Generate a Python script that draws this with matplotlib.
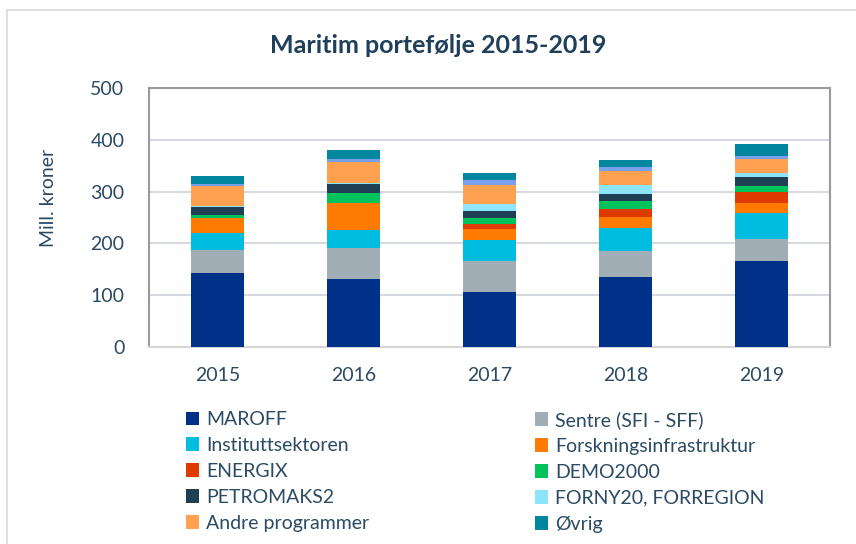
import numpy as np
import matplotlib.pyplot as plt
from matplotlib.patches import Rectangle

plt.rcParams['font.family'] = ['Lato', 'DejaVu Sans']

years = ["2015", "2016", "2017", "2018", "2019"]

# values per programme (mill. kroner), bottom to top of each bar
maroff = [143, 130, 105.5, 134.5, 165.5]
sentre = [43, 60, 60, 50.5, 43]
institutt = [33.5, 36, 40.5, 45, 50]
forskinfra = [29, 51.5, 22, 20.5, 19]
energix = [0, 0, 9.5, 16, 22.5]
demo2000 = [6, 20.5, 11, 15.5, 10.5]
petromaks2 = [15, 16.5, 14, 14, 17]
forny = [3.5, 2.5, 12.5, 16, 8]
andre = [38, 40.5, 37.5, 27, 28]
uspes = [4, 6, 9, 9, 6]          # light blue band, not in legend
ovrig = [15, 17, 14, 14, 22]

series = [
    ("MAROFF", maroff, "#003087"),
    ("Sentre (SFI - SFF)", sentre, "#A2AEB5"),
    ("Instituttsektoren", institutt, "#00BDE0"),
    ("Forskningsinfrastruktur", forskinfra, "#FF7A00"),
    ("ENERGIX", energix, "#DF3A00"),
    ("DEMO2000", demo2000, "#00C35E"),
    ("PETROMAKS2", petromaks2, "#1F3F55"),
    ("FORNY20, FORREGION", forny, "#8CE5FA"),
    ("Andre programmer", andre, "#FFA150"),
    ("_hidden", uspes, "#7AA0EC"),
    ("Øvrig", ovrig, "#00869E"),
]

text_col = "#2B4A63"

fig = plt.figure(figsize=(8.56, 5.44), dpi=100)
ax = fig.add_axes([0.1744, 0.363, 0.7952, 0.4747])

x = np.arange(len(years))
bottom = np.zeros(len(years))
handles = {}
for name, vals, col in series:
    vals = np.array(vals, dtype=float)
    ax.bar(x, vals, width=0.39, bottom=bottom, color=col, zorder=3)
    handles[name] = Rectangle((0, 0), 1, 1, facecolor=col)
    bottom += vals

ax.set_xlim(-0.5, len(years) - 0.5)
ax.set_ylim(0, 500)
ax.set_yticks([0, 100, 200, 300, 400, 500])
ax.set_xticks(x)
ax.set_xticklabels(years)
ax.tick_params(axis="both", length=0, labelsize=14, colors=text_col)
ax.tick_params(axis="y", pad=18)
ax.tick_params(axis="x", pad=15)
ax.yaxis.grid(True, color="#D6DAE0", linewidth=1.5, zorder=0)
for side in ["left", "top", "right"]:
    ax.spines[side].set_color("#9A9A9A")
    ax.spines[side].set_linewidth(1.5)
ax.spines["bottom"].set_color("#D6D6D6")
ax.spines["bottom"].set_linewidth(1.5)

fig.text(0.512, 0.917, "Maritim portefølje 2015-2019", ha="center", va="center",
         fontsize=18, fontweight="bold", color="#1F3F5A")
fig.text(48 / 856, 1 - 197.5 / 544, "Mill. kroner", rotation=90, ha="center",
         va="center", fontsize=14, color=text_col)

# chart border
fig.patches.append(Rectangle((7 / 856, -0.01), 1.0, 1 - 10 / 544 + 0.01,
                             transform=fig.transFigure, fill=False,
                             edgecolor="#D9D9D9", linewidth=1.2))

left_names = ["MAROFF", "Instituttsektoren", "ENERGIX", "PETROMAKS2", "Andre programmer"]
right_names = ["Sentre (SFI - SFF)", "Forskningsinfrastruktur", "DEMO2000",
               "FORNY20, FORREGION", "Øvrig"]
for names, xpos in [(left_names, 186 / 856), (right_names, 535 / 856)]:
    fig.legend([handles[n] for n in names], names, loc="upper left",
               bbox_to_anchor=(xpos, 1 - 411 / 544), frameon=False,
               fontsize=14, handlelength=0.68, handleheight=0.68,
               handletextpad=0.35, labelspacing=0.46, borderaxespad=0,
               borderpad=0, labelcolor=text_col)

fig.savefig("out.png", dpi=100)
